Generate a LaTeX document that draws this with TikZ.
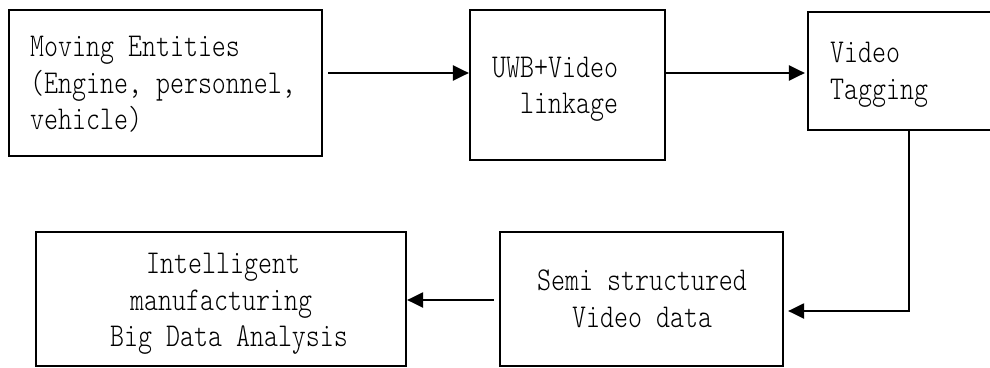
\documentclass[tikz,border=0pt]{standalone}
\usepackage{fontspec}
\newfontfamily\cfont{lmmonolt10-regular}[Extension=.otf,FakeStretch=0.8]
\usetikzlibrary{arrows.meta}
\begin{document}
\begin{tikzpicture}[x=1pt,y=-1pt,
  box/.style={draw,line width=2.2pt,minimum width=#1,inner sep=0pt},
  txt/.style={anchor=base west,inner sep=0pt,font=\cfont\fontsize{33.3}{36}\selectfont},
  arr/.style={line width=2.2pt,-{Triangle[length=16pt,width=15pt]}}]
\clip (0,0) rectangle (990,367);
\fill[white] (0,0) rectangle (990,367);
% boxes
\node[box=313pt,minimum height=146pt] (b1) at (165.5,83) {};
\node[box=195pt,minimum height=150pt] (b2) at (567.5,85) {};
\node[box=200pt,minimum height=118pt] (b3) at (908,71) {};
\node[box=283pt,minimum height=134pt] (b4) at (641.5,299) {};
\node[box=370pt,minimum height=134pt] (b5) at (221,299) {};
% texts
\node[txt] (t1a) at (30,56) {Moving Entities};
\node[txt] (t1b) at (30,93) {(Engine, personnel,};
\node[txt] (t1c) at (30,129) {vehicle)};
\node[txt] (t2a) at (492,77) {UWB+Video};
\node[txt] (t2b) at (520,113) {linkage};
\node[txt] (t3a) at (830,62) {Video};
\node[txt] (t3b) at (830,99) {Tagging};
\node[txt] (t4a) at (537,290) {Semi structured};
\node[txt] (t4b) at (572,327) {Video data};
\node[txt] (t5a) at (146,273) {Intelligent};
\node[txt] (t5b) at (130,310) {manufacturing};
\node[txt] (t5c) at (110,346) {Big Data Analysis};
% connectors
\coordinate (c3) at (909,311);
\draw[arr,shorten <=5pt] (b1.east |- 0,73) -- (b2.west |- 0,73);
\draw[arr,shorten >=2pt] (b2.east |- 0,73) -- (b3.west |- 0,73);
\draw[arr,shorten >=4pt] (b3.south -| c3) -- (c3) -- (b4.east |- c3);
\draw[arr,shorten <=5pt] (b4.west |- 0,300) -- (b5.east |- 0,300);
\end{tikzpicture}
\end{document}
